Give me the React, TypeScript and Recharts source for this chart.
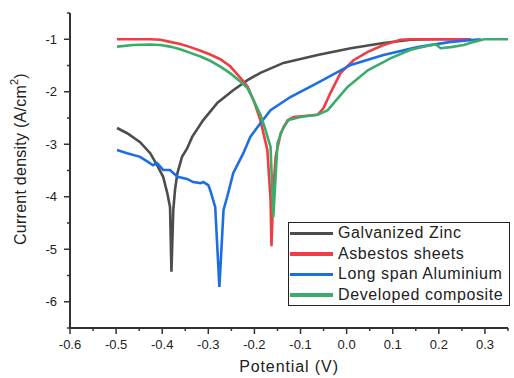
import { LineChart, Line, XAxis, YAxis } from 'recharts'

// Tafel curves: potential (V) vs log current density
const zincPotential = [-0.498, -0.476, -0.448, -0.426, -0.411, -0.398, -0.389, -0.383, -0.380, -0.376, -0.372, -0.367, -0.357, -0.346, -0.335, -0.311, -0.280, -0.246, -0.215, -0.187, -0.137, -0.063, 0.009, 0.080, 0.139, 0.189, 0.24]
const zincCurrent   = [-2.69, -2.79, -2.96, -3.17, -3.40, -3.62, -3.93, -4.20, -5.43, -4.25, -3.85, -3.55, -3.24, -3.08, -2.86, -2.54, -2.21, -1.97, -1.78, -1.64, -1.45, -1.30, -1.17, -1.07, -1.01, -1.0, -1.0]

const asbestosPotential = [-0.498, -0.463, -0.426, -0.404, -0.383, -0.361, -0.339, -0.317, -0.296, -0.274, -0.252, -0.230, -0.215, -0.202, -0.187, -0.172, -0.165, -0.163, -0.159, -0.154, -0.143, -0.128, -0.115, -0.063, -0.050, -0.035, -0.013, 0.015, 0.046, 0.080, 0.117, 0.139, 0.27]
const asbestosCurrent   = [-1.0, -1.0, -1.0, -1.01, -1.05, -1.09, -1.15, -1.22, -1.29, -1.38, -1.52, -1.74, -1.90, -2.16, -2.54, -3.11, -4.06, -4.94, -3.87, -3.24, -2.79, -2.54, -2.48, -2.44, -2.31, -2.02, -1.64, -1.40, -1.24, -1.11, -1.01, -1.0, -1.0]

const aluminiumPotential = [-0.498, -0.476, -0.448, -0.430, -0.420, -0.411, -0.398, -0.383, -0.367, -0.346, -0.333, -0.317, -0.311, -0.300, -0.296, -0.285, -0.276, -0.267, -0.259, -0.246, -0.224, -0.209, -0.187, -0.165, -0.122, -0.063, 0.009, 0.080, 0.154, 0.226, 0.291]
const aluminiumCurrent   = [-3.11, -3.17, -3.24, -3.34, -3.40, -3.36, -3.49, -3.49, -3.62, -3.66, -3.72, -3.74, -3.72, -3.78, -3.87, -4.20, -5.72, -4.25, -4.00, -3.55, -3.17, -2.86, -2.60, -2.35, -2.10, -1.83, -1.49, -1.30, -1.15, -1.05, -1.0]

const compositePotential = [-0.498, -0.463, -0.426, -0.404, -0.383, -0.361, -0.339, -0.317, -0.296, -0.274, -0.252, -0.230, -0.215, -0.202, -0.187, -0.178, -0.165, -0.159, -0.150, -0.137, -0.126, -0.100, -0.063, -0.041, 0.002, 0.046, 0.096, 0.139, 0.183, 0.194, 0.204, 0.226, 0.254, 0.276, 0.298, 0.35]
const compositeCurrent   = [-1.14, -1.11, -1.10, -1.11, -1.14, -1.19, -1.26, -1.33, -1.41, -1.52, -1.65, -1.81, -1.93, -2.16, -2.44, -2.67, -3.05, -4.39, -2.98, -2.67, -2.54, -2.48, -2.44, -2.35, -1.91, -1.59, -1.36, -1.20, -1.11, -1.10, -1.17, -1.15, -1.11, -1.05, -1.0, -1.0]

const seriesNames  = ['Galvanized Zinc', 'Asbestos sheets', 'Long span Aluminium', 'Developed composite']
const seriesColors = ['#4d4d4d', '#ef3e42', '#1c6fe3', '#3aad6c']

const xTicks = [-0.6, -0.55, -0.5, -0.45, -0.4, -0.35, -0.3, -0.25, -0.2, -0.15, -0.1, -0.05, 0, 0.05, 0.1, 0.15, 0.2, 0.25, 0.3, 0.35]
const yTicks = [-6.5, -6, -5.5, -5, -4.5, -4, -3.5, -3, -2.5, -2, -1.5, -1, -0.5]

const toPoints = (xs: number[], ys: number[]) => xs.map((x, i) => ({ x, y: ys[i] }))
const series = [
  toPoints(zincPotential, zincCurrent),
  toPoints(asbestosPotential, asbestosCurrent),
  toPoints(aluminiumPotential, aluminiumCurrent),
  toPoints(compositePotential, compositeCurrent),
]

const AXIS = '#333'
const FONT = '"Liberation Sans", Arial, sans-serif'

const isMajor = (v: number, step: number) => Math.abs(v / step - Math.round(v / step)) < 1e-6

function XTick({ x, y, payload }: any) {
  const v = payload.value as number
  const major = isMajor(v, 0.1)
  return (
    <g>
      <line x1={x} x2={x} y1={y} y2={y + (major ? 6 : 3)} stroke={AXIS} strokeWidth={1.5} />
      {major && (
        <text x={x} y={y + 16} textAnchor="middle" dominantBaseline="central" fontSize={13} fill="#222" fontFamily={FONT}>
          {v.toFixed(1)}
        </text>
      )}
    </g>
  )
}

function YTick({ x, y, payload }: any) {
  const v = payload.value as number
  const major = isMajor(v, 1)
  return (
    <g>
      <line x1={x} x2={x - (major ? 6 : 3)} y1={y} y2={y} stroke={AXIS} strokeWidth={1.5} />
      {major && (
        <text x={x - 13} y={y} textAnchor="end" dominantBaseline="central" fontSize={13} fill="#222" fontFamily={FONT}>
          {v}
        </text>
      )}
    </g>
  )
}

export default function App() {
  return (
    <div style={{ position: 'relative', width: 514, height: 378, overflow: 'hidden', background: '#fff', fontFamily: FONT }}>
      <style>{'html,body{margin:0;padding:0;overflow:hidden}'}</style>
      <LineChart width={514} height={378} margin={{ top: 13, right: 6, bottom: 0, left: 0 }}>
        <XAxis
          type="number" dataKey="x" domain={[-0.6, 0.35]} ticks={xTicks} interval={0}
          allowDataOverflow height={50} tickSize={0} tickMargin={0} tickLine={false}
          axisLine={{ stroke: AXIS, strokeWidth: 2 }} tick={<XTick />}
          label={{ content: () => (
            <text x={289} y={366} textAnchor="middle" dominantBaseline="central" fontSize={16} letterSpacing={0.9} fill="#222" fontFamily={FONT}>
              Potential (V)
            </text>
          ) }}
        />
        <YAxis
          type="number" dataKey="y" domain={[-6.5, -0.5]} ticks={yTicks} interval={0}
          allowDataOverflow width={70} tickSize={0} tickMargin={0} tickLine={false}
          axisLine={{ stroke: AXIS, strokeWidth: 2 }} tick={<YTick />}
          label={{ content: () => (
            <text x={20} y={159} transform="rotate(-90 20 159)" textAnchor="middle" dominantBaseline="central" fontSize={16} letterSpacing={0.25} fill="#222" fontFamily={FONT}>
              Current density (A/cm<tspan dy={-6} fontSize={11}>2</tspan><tspan dy={6}>)</tspan>
            </text>
          ) }}
        />
        {series.map((d, i) => (
          <Line key={seriesNames[i]} data={d} dataKey="y" name={seriesNames[i]} type="linear"
            stroke={seriesColors[i]} strokeWidth={2.6} dot={false} activeDot={false} isAnimationActive={false} />
        ))}
      </LineChart>
      <div style={{ position: 'absolute', left: 288, top: 222, width: 220, height: 82, border: '1.5px solid #222', background: '#fff', overflow: 'hidden' }}>
        {seriesNames.map((n, i) => (
          <div key={n} style={{ display: 'flex', alignItems: 'center', height: 20.5 }}>
            <div style={{ width: 43, height: 3.5, background: seriesColors[i], marginLeft: 1, flexShrink: 0 }} />
            <span style={{ marginLeft: 5, fontSize: 16, letterSpacing: 0.6, color: '#222', whiteSpace: 'nowrap', lineHeight: '20px' }}>{n}</span>
          </div>
        ))}
      </div>
    </div>
  )
}
